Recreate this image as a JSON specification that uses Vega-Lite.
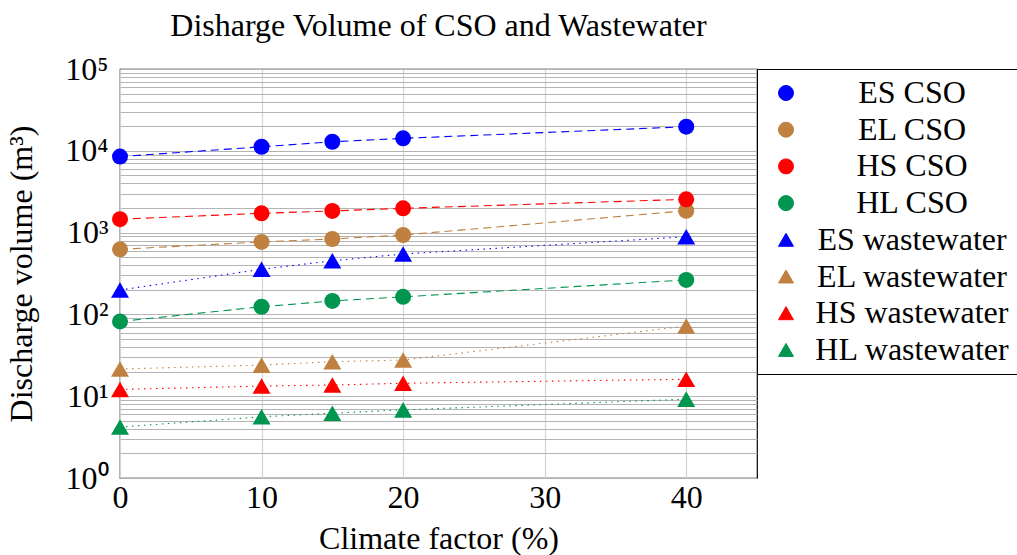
{
  "$schema": "https://vega.github.io/schema/vega-lite/v6.json",
  "width": 637,
  "height": 409,
  "autosize": "none",
  "padding": {"left": 120, "top": 69, "right": 260, "bottom": 77},
  "background": "white",
  "config": {
    "font": "Liberation Serif",
    "view": {"stroke": "black", "strokeWidth": 1.2},
    "axis": {"labelFont": "Liberation Serif", "titleFont": "Liberation Serif", "labelColor": "black", "titleColor": "black", "titleFontWeight": "normal", "labelFontSize": 32, "titleFontSize": 32, "domain": false, "ticks": false}
  },
  "title": {"text": "Disharge Volume of CSO and Wastewater", "font": "Liberation Serif", "fontSize": 32, "fontWeight": "normal", "color": "black", "anchor": "middle", "offset": 10},
  "data": {"values": [
    {"series": "ES CSO", "type": "CSO", "factor": 0, "volume": 8500},
    {"series": "ES CSO", "type": "CSO", "factor": 10, "volume": 11200},
    {"series": "ES CSO", "type": "CSO", "factor": 15, "volume": 12900},
    {"series": "ES CSO", "type": "CSO", "factor": 20, "volume": 14200},
    {"series": "ES CSO", "type": "CSO", "factor": 40, "volume": 19700},
    {"series": "EL CSO", "type": "CSO", "factor": 0, "volume": 625},
    {"series": "EL CSO", "type": "CSO", "factor": 10, "volume": 770},
    {"series": "EL CSO", "type": "CSO", "factor": 15, "volume": 835},
    {"series": "EL CSO", "type": "CSO", "factor": 20, "volume": 935},
    {"series": "EL CSO", "type": "CSO", "factor": 40, "volume": 1850},
    {"series": "HS CSO", "type": "CSO", "factor": 0, "volume": 1460},
    {"series": "HS CSO", "type": "CSO", "factor": 10, "volume": 1720},
    {"series": "HS CSO", "type": "CSO", "factor": 15, "volume": 1840},
    {"series": "HS CSO", "type": "CSO", "factor": 20, "volume": 1980},
    {"series": "HS CSO", "type": "CSO", "factor": 40, "volume": 2550},
    {"series": "HL CSO", "type": "CSO", "factor": 0, "volume": 82},
    {"series": "HL CSO", "type": "CSO", "factor": 10, "volume": 124},
    {"series": "HL CSO", "type": "CSO", "factor": 15, "volume": 146},
    {"series": "HL CSO", "type": "CSO", "factor": 20, "volume": 164},
    {"series": "HL CSO", "type": "CSO", "factor": 40, "volume": 264},
    {"series": "ES wastewater", "type": "wastewater", "factor": 0, "volume": 199},
    {"series": "ES wastewater", "type": "wastewater", "factor": 10, "volume": 356},
    {"series": "ES wastewater", "type": "wastewater", "factor": 15, "volume": 453},
    {"series": "ES wastewater", "type": "wastewater", "factor": 20, "volume": 547},
    {"series": "ES wastewater", "type": "wastewater", "factor": 40, "volume": 890},
    {"series": "EL wastewater", "type": "wastewater", "factor": 0, "volume": 21.5},
    {"series": "EL wastewater", "type": "wastewater", "factor": 10, "volume": 24},
    {"series": "EL wastewater", "type": "wastewater", "factor": 15, "volume": 26.4},
    {"series": "EL wastewater", "type": "wastewater", "factor": 20, "volume": 27.7},
    {"series": "EL wastewater", "type": "wastewater", "factor": 40, "volume": 72},
    {"series": "HS wastewater", "type": "wastewater", "factor": 0, "volume": 12.1},
    {"series": "HS wastewater", "type": "wastewater", "factor": 10, "volume": 13.3},
    {"series": "HS wastewater", "type": "wastewater", "factor": 15, "volume": 13.7},
    {"series": "HS wastewater", "type": "wastewater", "factor": 20, "volume": 14.4},
    {"series": "HS wastewater", "type": "wastewater", "factor": 40, "volume": 16.1},
    {"series": "HL wastewater", "type": "wastewater", "factor": 0, "volume": 4.2},
    {"series": "HL wastewater", "type": "wastewater", "factor": 10, "volume": 5.6},
    {"series": "HL wastewater", "type": "wastewater", "factor": 15, "volume": 6.2},
    {"series": "HL wastewater", "type": "wastewater", "factor": 20, "volume": 6.8},
    {"series": "HL wastewater", "type": "wastewater", "factor": 40, "volume": 9.2}
  ]},
  "encoding": {
    "x": {"field": "factor", "type": "quantitative", "scale": {"domain": [0, 45], "nice": false, "zero": false},
      "axis": {"title": "Climate factor (%)", "values": [0, 10, 20, 30, 40], "grid": true, "gridColor": "#d4d4d4", "gridWidth": 1.2, "labelPadding": 4, "titlePadding": 10, "labelBaseline": "top", "labelFlush": false}},
    "y": {"field": "volume", "type": "quantitative", "scale": {"type": "log", "domain": [1, 100000], "nice": false},
      "axis": {"title": "Discharge volume (m³)", "values": [1,2,3,4,5,6,7,8,9,10,20,30,40,50,60,70,80,90,100,200,300,400,500,600,700,800,900,1000,2000,3000,4000,5000,6000,7000,8000,9000,10000,20000,30000,40000,50000,60000,70000,80000,90000,100000],
        "labelExpr": "indexof([1,10,100,1000,10000,100000], datum.value) >= 0 ? '10' + ['⁰','¹','²','³','⁴','⁵'][round(log(datum.value)/LN10)] : ''",
        "labelOverlap": false, "labelFlush": false, "grid": true, "gridColor": "#b4b4b4", "gridWidth": 1, "labelPadding": 12, "titlePadding": 26}},
    "color": {"field": "series", "type": "nominal",
      "scale": {"domain": ["ES CSO", "EL CSO", "HS CSO", "HL CSO", "ES wastewater", "EL wastewater", "HS wastewater", "HL wastewater"],
        "range": ["#0000ff", "#bf8040", "#ff0000", "#009650", "#0000ff", "#bf8040", "#ff0000", "#009650"]},
      "legend": {"title": null, "orient": "none", "legendX": 637, "legendY": 0, "strokeColor": "black", "fillColor": "white", "padding": 8,
        "labelFont": "Liberation Serif", "labelFontSize": 32, "labelColor": "black", "labelAlign": "center", "labelOffset": 110, "labelLimit": 0,
        "rowPadding": 4.7, "symbolSize": 225, "symbolStrokeWidth": 1, "symbolOpacity": 1, "symbolOffset": 5}
    }
  },
  "layer": [
    {
      "mark": {"type": "line", "strokeWidth": 1.1},
      "encoding": {
        "strokeDash": {"field": "type", "type": "nominal", "legend": null, "scale": {"domain": ["CSO", "wastewater"], "range": [[8, 5], [1.5, 4.5]]}}
      }
    },
    {
      "mark": {"type": "point", "filled": true, "opacity": 1},
      "encoding": {
        "shape": {"field": "series", "type": "nominal",
          "scale": {"domain": ["ES CSO", "EL CSO", "HS CSO", "HL CSO", "ES wastewater", "EL wastewater", "HS wastewater", "HL wastewater"],
            "range": ["circle", "circle", "circle", "circle", "triangle-up", "triangle-up", "triangle-up", "triangle-up"]}},
        "size": {"condition": {"test": "datum.type === 'CSO'", "value": 256}, "value": 324}
      }
    }
  ]
}
